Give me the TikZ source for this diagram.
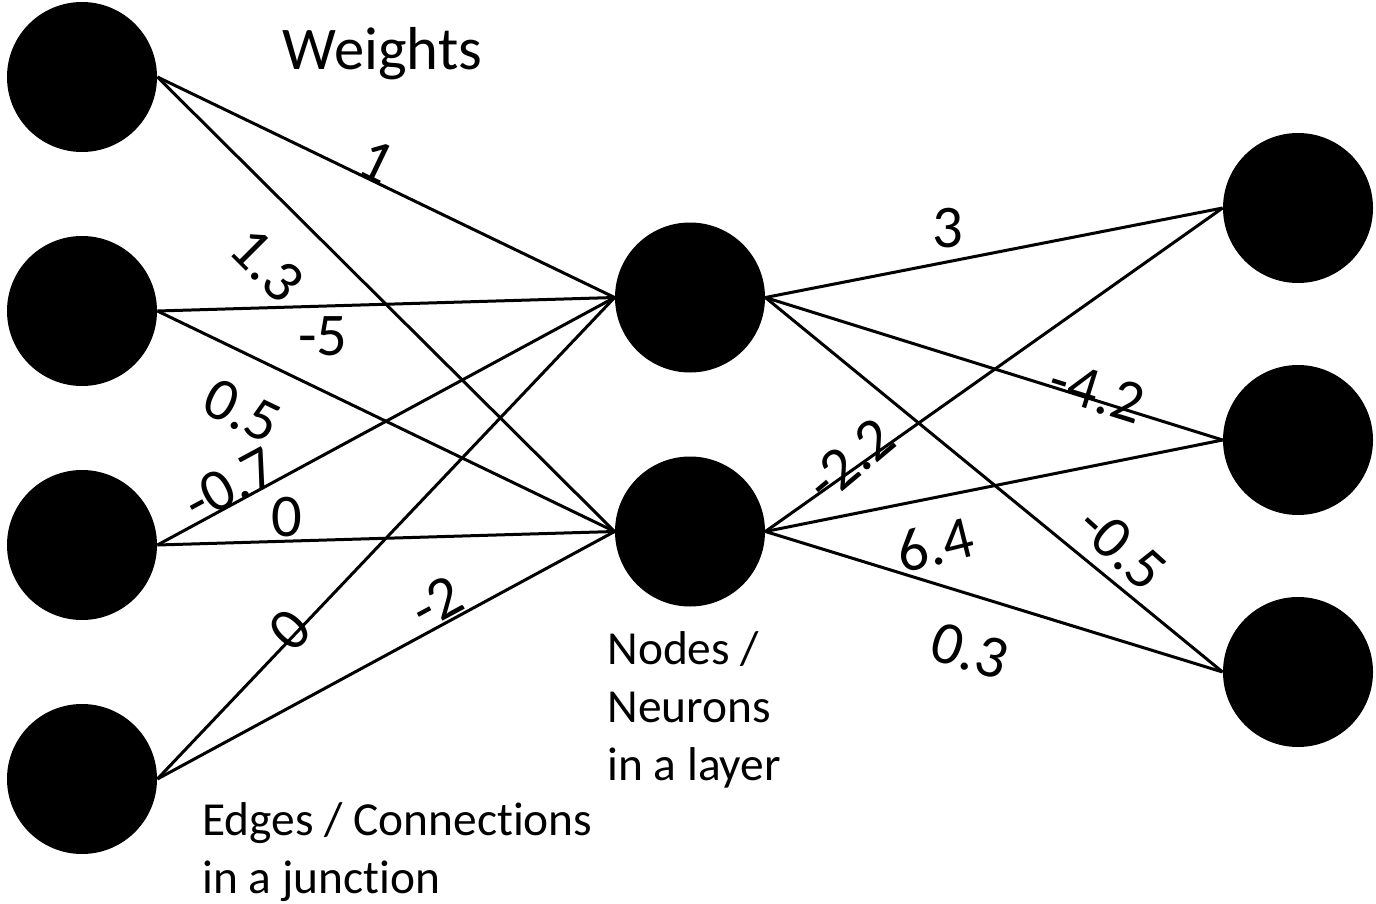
\documentclass[tikz,border=0pt]{standalone}
\usepackage{fontspec}
\setmainfont[Ligatures=NoCommon]{Carlito}
\begin{document}
\begin{tikzpicture}[x=0.5pt,y=-0.5pt,
  neuron/.style={circle,fill=black,minimum size=75pt,inner sep=0pt},
  conn/.style={line width=1.5pt},
  wlabel/.style={font=\fontsize{30.3}{36}\selectfont,inner sep=0pt},
  note/.style={font=\fontsize{23.7}{29}\selectfont,inner sep=0pt,align=left,anchor=base west}]
\useasboundingbox[fill=white] (0,0) rectangle (1376,904);
% neurons
\node[neuron] (i1) at (82,77) {};
\node[neuron] (i2) at (82,311) {};
\node[neuron] (i3) at (82,545) {};
\node[neuron] (i4) at (82,779) {};
\node[neuron] (h1) at (690,297.5) {};
\node[neuron] (h2) at (690,531.5) {};
\node[neuron] (o1) at (1298,208) {};
\node[neuron] (o2) at (1298,440) {};
\node[neuron] (o3) at (1298,672) {};
% connections
\foreach \a in {1,2,3,4}{\foreach \b in {1,2}{\draw[conn] (i\a.east) -- (h\b.west);}}
\foreach \a in {1,2}{\foreach \b in {1,2,3}{\draw[conn] (h\a.east) -- (o\b.west);}}
% weights
\node[wlabel,rotate=-25.7] (w11) at (377,162) {1};
\node[wlabel,rotate=-45] (w12) at (267,265) {1.3};
\node[wlabel] (w21) at (323,336) {-5};
\node[wlabel,rotate=-25.7] (w22) at (242,411) {0.5};
\node[wlabel,rotate=28.4] (w31) at (230,485) {-0.7};
\node[wlabel] (w32) at (287,517) {0};
\node[wlabel,rotate=46.4] (w41) at (290,630) {0};
\node[wlabel,rotate=28.4] (w42) at (437,602) {-2};
\node[wlabel] (v11) at (948,228) {3};
\node[wlabel,rotate=-17.3] (v12) at (1097,392) {-4.2};
\node[wlabel,rotate=-42] (v13) at (1122,548) {-0.5};
\node[wlabel,rotate=40] (v21) at (850,460) {-2.2};
\node[wlabel,rotate=14] (v22) at (935,545) {6.4};
\node[wlabel,rotate=-17.1] (v23) at (970,651) {0.3};
% notes
\node[wlabel,anchor=base west] (weights) at (282,70) {Weights};
\node[note] (nodesnote) at (607,780) {Nodes /\\Neurons\\in a layer};
\node[note] (edgesnote) at (202,893) {Edges / Connections\\in a junction};
\end{tikzpicture}
\end{document}
